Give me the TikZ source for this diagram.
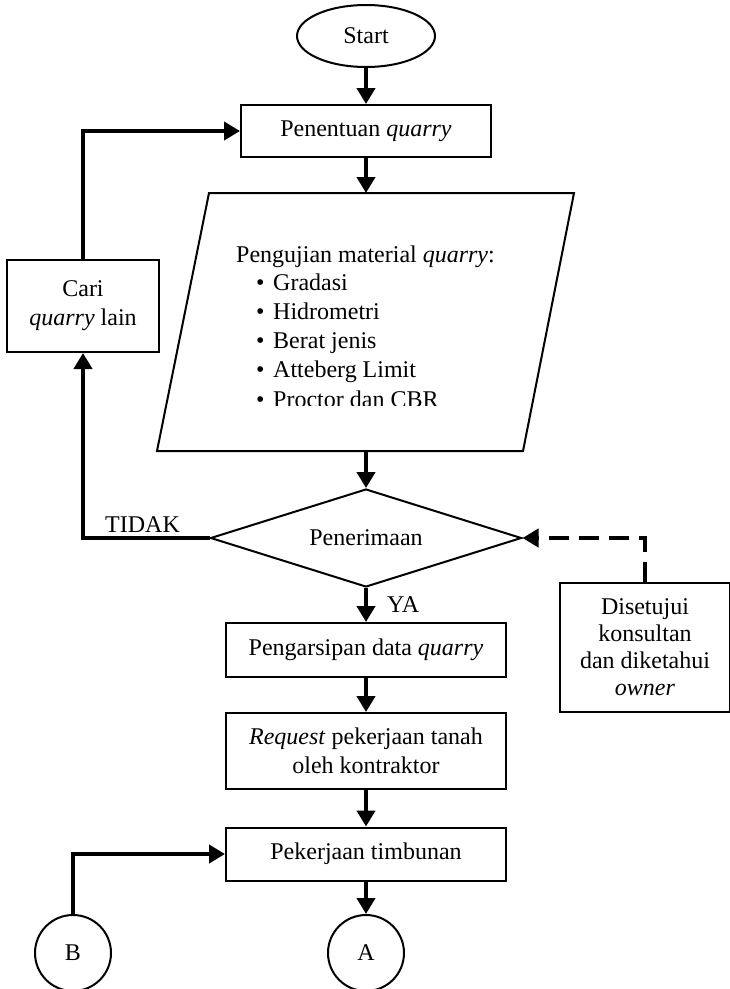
\documentclass[tikz,border=0pt]{standalone}
\usepackage{fontspec}
\setmainfont{Liberation Serif}
\usetikzlibrary{shapes.geometric,arrows.meta}
\begin{document}
\begin{tikzpicture}[x=1pt,y=-1pt,
  every node/.style={font=\fontsize{24}{29}\selectfont, inner sep=0pt},
  box/.style={draw, line width=2pt, rectangle, align=center},
  flow/.style={line width=4.5pt, line join=miter, -{Triangle[length=16pt,width=18pt]}},
  dflow/.style={line width=4.5pt, line join=miter, dash pattern=on 20pt off 10pt, -{Triangle[length=16pt,width=18pt]}},
  listline/.style={anchor=base west}
]
\useasboundingbox (0,0) rectangle (730,989);

\node[draw, ellipse, line width=2pt, minimum width=138pt, minimum height=62pt] (start) at (366,36) {Start};
\node[box, minimum width=250pt, minimum height=52pt] (pen) at (366,131) {Penentuan \textit{quarry}};

% parallelogram
\draw[line width=2pt, line join=miter] (209,193) -- (574,193) -- (523,451) -- (157,451) -- cycle;
\coordinate (ptop) at (366,193);
\coordinate (pbot) at (366,451);
\node[listline] (l0) at (236,262) {Pengujian material \textit{quarry}:};
\node[listline] (l1) at (256,290) {\makebox[17pt][l]{\textbullet}Gradasi};
\node[listline] (l2) at (256,319) {\makebox[17pt][l]{\textbullet}Hidrometri};
\node[listline] (l3) at (256,348) {\makebox[17pt][l]{\textbullet}Berat jenis};
\node[listline] (l4) at (256,377) {\makebox[17pt][l]{\textbullet}Atteberg Limit};
\begin{scope}
\clip (150,380) rectangle (600,405);
\node[listline] (l5) at (256,407) {\makebox[17pt][l]{\textbullet}Proctor dan CBR};
\end{scope}

\node[draw, diamond, aspect=3.17, line width=2pt, minimum width=311pt, minimum height=98pt] (dia) at (366,538) {Penerimaan};
\node[box, minimum width=152pt, minimum height=92pt] (cari) at (83,306) {Cari\\\textit{quarry} lain};
\node[box, minimum width=280pt, minimum height=54pt] (arsip) at (366,650) {Pengarsipan data \textit{quarry}};
\node[box, minimum width=280pt, minimum height=76pt] (req) at (366,751) {\textit{Request} pekerjaan tanah\\oleh kontraktor};
\node[box, minimum width=280pt, minimum height=53pt] (timb) at (366,854) {Pekerjaan timbunan};
\node[box, minimum width=170pt, minimum height=129pt, font=\fontsize{24}{27}\selectfont] (setuju) at (645,647.5) {Disetujui\\konsultan\\dan diketahui\\\textit{owner}};
\node[draw, circle, line width=2pt, minimum size=76pt] (B) at (73,953) {B};
\node[draw, circle, line width=2pt, minimum size=76pt] (A) at (366,953) {A};

\node[anchor=base west] (tidak) at (105,532) {TIDAK};
\node[anchor=base west] (ya) at (387,612) {YA};

\draw[flow] (start.south) -- (pen.north);
\draw[flow] (pen.south) -- (ptop);
\draw[flow] (pbot) -- (dia.north);
\draw[flow] (dia.west) -| (cari.south);
\draw[flow] (cari.north) |- (pen.west);
\draw[flow] (dia.south) -- (arsip.north);
\draw[flow] (arsip.south) -- (req.north);
\draw[flow] (req.south) -- (timb.north);
\draw[flow] (timb.south) -- (A.north);
\draw[flow] (B.north) |- (timb.west);
\draw[dflow] (setuju.north) |- (dia.east);
\end{tikzpicture}
\end{document}
